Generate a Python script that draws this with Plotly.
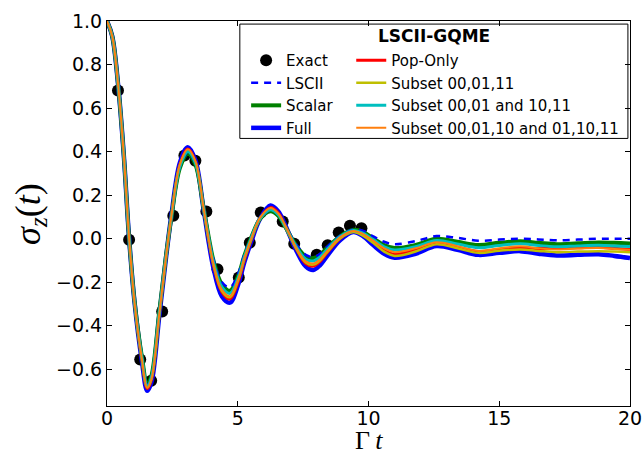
import plotly.graph_objects as go

# ---------------- data ----------------
T = [0, 0.2, 0.43, 0.65, 0.84, 1.05, 1.33, 1.54, 1.7, 2.0, 2.25, 2.46, 2.79, 3.09, 3.38, 3.68, 3.9, 4.07, 4.39, 4.7,
     5.02, 5.25, 5.5, 5.85, 6.25, 6.55, 6.81, 7.25, 7.6, 7.89, 8.15, 8.4, 8.91, 9.42, 9.8, 10.18, 10.6, 11.0, 11.8, 12.6,
     13.4, 14.2, 15.0, 15.8, 16.5, 17.2, 18.0, 18.8, 19.4, 20.0]

exact_t = [0.42, 0.845, 1.27, 1.69, 2.11, 2.535, 2.96, 3.38, 3.80, 4.225, 5.04, 5.46, 5.88, 6.72, 7.16, 8.02, 8.44,
           8.86, 9.29, 9.73]
exact_y = [0.68, -0.006, -0.556, -0.654, -0.336, 0.105, 0.382, 0.358, 0.124, -0.141, -0.179, -0.02, 0.12, 0.078,
           -0.024, -0.075, -0.031, 0.028, 0.059, 0.047]

lscii = [1.0, 0.93, 0.70, 0.37, 0.01, -0.285, -0.545, -0.675, -0.635, -0.335, -0.085, 0.095, 0.33, 0.395, 0.345, 0.15,
         0.0, -0.095, -0.2, -0.225, -0.16, -0.075, 0.0, 0.09, 0.13, 0.11, 0.06, -0.03, -0.075, -0.085, -0.07, -0.04,
         0.012, 0.042, 0.035, 0.01, -0.015, -0.026, -0.012, 0.011, 0.003, -0.01, -0.005, -0.001, -0.004, -0.008,
         -0.005, -0.001, -0.001, -0.001]
scalar = [1.0, 0.93, 0.70, 0.37, 0.01, -0.285, -0.54, -0.67, -0.63, -0.335, -0.085, 0.095, 0.325, 0.39, 0.34, 0.15,
          0.0, -0.1, -0.21, -0.24, -0.17, -0.08, 0.0, 0.09, 0.125, 0.105, 0.055, -0.035, -0.082, -0.09, -0.075, -0.045,
          0.01, 0.04, 0.03, 0.0, -0.03, -0.044, -0.03, -0.001, -0.015, -0.03, -0.02, -0.013, -0.02, -0.026, -0.022,
          -0.018, -0.02, -0.023]
full = [1.0, 0.93, 0.70, 0.37, 0.01, -0.29, -0.56, -0.70, -0.66, -0.355, -0.095, 0.105, 0.35, 0.42, 0.36, 0.145,
        -0.025, -0.135, -0.265, -0.295, -0.21, -0.11, -0.02, 0.09, 0.152, 0.125, 0.063, -0.058, -0.128, -0.145,
        -0.122, -0.083, -0.008, 0.03, 0.01, -0.03, -0.07, -0.088, -0.07, -0.035, -0.052, -0.075, -0.066, -0.058,
        -0.07, -0.078, -0.075, -0.072, -0.08, -0.09]
pop_only = [1.0, 0.93, 0.70, 0.37, 0.01, -0.29, -0.555, -0.69, -0.65, -0.35, -0.092, 0.10, 0.342, 0.412, 0.355, 0.148,
            -0.015, -0.122, -0.245, -0.278, -0.197, -0.1, -0.012, 0.092, 0.142, 0.117, 0.06, -0.05, -0.115, -0.127,
            -0.105, -0.068, 0.0, 0.033, 0.017, -0.017, -0.055, -0.072, -0.052, -0.023, -0.04, -0.06, -0.05, -0.044,
            -0.046, -0.044, -0.042, -0.04, -0.045, -0.05]
subset_a = [1.0, 0.93, 0.70, 0.37, 0.01, -0.29, -0.55, -0.685, -0.645, -0.345, -0.09, 0.10, 0.338, 0.405, 0.35, 0.145,
            -0.012, -0.12, -0.24, -0.27, -0.19, -0.095, -0.01, 0.09, 0.135, 0.11, 0.055, -0.05, -0.11, -0.12, -0.1,
            -0.065, 0.0, 0.03, 0.012, -0.02, -0.06, -0.08, -0.06, -0.026, -0.045, -0.066, -0.056, -0.05, -0.057,
            -0.063, -0.06, -0.058, -0.06, -0.063]
subset_b = [1.0, 0.93, 0.70, 0.37, 0.01, -0.288, -0.545, -0.678, -0.638, -0.34, -0.088, 0.098, 0.332, 0.4, 0.348, 0.15,
            -0.005, -0.108, -0.222, -0.252, -0.178, -0.085, -0.002, 0.092, 0.132, 0.11, 0.057, -0.04, -0.095, -0.103,
            -0.085, -0.052, 0.008, 0.037, 0.024, -0.005, -0.038, -0.053, -0.038, -0.009, -0.025, -0.042, -0.032,
            -0.024, -0.032, -0.038, -0.034, -0.031, -0.034, -0.037]
subset_c = [1.0, 0.93, 0.70, 0.37, 0.01, -0.29, -0.55, -0.685, -0.645, -0.345, -0.09, 0.10, 0.34, 0.41, 0.355, 0.15,
            -0.01, -0.115, -0.235, -0.265, -0.185, -0.09, -0.005, 0.095, 0.14, 0.115, 0.06, -0.045, -0.105, -0.115,
            -0.095, -0.06, 0.005, 0.035, 0.02, -0.01, -0.045, -0.063, -0.045, -0.017, -0.035, -0.057, -0.045, -0.036,
            -0.045, -0.05, -0.046, -0.044, -0.048, -0.052]

x_ticks = [0, 5, 10, 15, 20]
y_ticks = [-0.6, -0.4, -0.2, 0.0, 0.2, 0.4, 0.6, 0.8, 1.0]

LEGEND_TITLE = "LSCII-GQME"

# ---------------- figure ----------------
fig = go.Figure()

fig.add_trace(go.Scatter(x=exact_t, y=exact_y, mode="markers", name="Exact",
                         marker=dict(color="black", size=12), legend="legend", legendrank=1,
                         legendgroup="g1"))


def line(y, name, color, width, dash, leg, rank, grp):
    fig.add_trace(go.Scatter(x=T, y=y, mode="lines", name=name,
                             line=dict(color=color, width=width, dash=dash, shape="spline", smoothing=1.0),
                             legend=leg, legendrank=rank, legendgroup=grp))


line(full, "Full", "#0000ff", 4.5, "solid", "legend", 4, "g4")
line(scalar, "Scalar", "#008000", 4, "solid", "legend", 3, "g3")
line(lscii, "LSCII", "#0000ff", 2.5, "7px,6px", "legend", 2, "g2")
line(pop_only, "Pop-Only", "#ff0000", 3, "solid", "legend2", 1, "g5")
line(subset_a, "Subset 00,01,11", "#bfbf00", 2.5, "solid", "legend2", 2, "g6")
line(subset_b, "Subset 00,01 and 10,11", "#00bfbf", 3, "solid", "legend2", 3, "g7")
line(subset_c, "Subset 00,01,10 and 01,10,11", "#ff7f0e", 2, "solid", "legend2", 4, "g8")

axis_common = dict(showline=True, linecolor="black", linewidth=1, mirror="allticks", ticks="inside",
                   ticklen=5, tickwidth=1, tickcolor="black", showgrid=False, zeroline=False,
                   automargin=False,
                   tickfont=dict(family="DejaVu Sans", size=19, color="black"))

fig.update_xaxes(range=[0, 20], tickvals=x_ticks, ticktext=[str(v) for v in x_ticks],
                 ticklabelstandoff=-5, **axis_common)
fig.update_yaxes(range=[-0.77, 1.0], tickvals=y_ticks, tickformat=".1f", **axis_common)

leg_common = dict(xanchor="left", yanchor="top", bgcolor="rgba(0,0,0,0)", borderwidth=0,
                  font=dict(family="DejaVu Sans", size=15, color="black"), tracegroupgap=3,
                  itemwidth=30, traceorder="normal")

fig.update_layout(
    width=644, height=461,
    margin=dict(l=107, r=14, t=21, b=55, autoexpand=False),
    paper_bgcolor="white", plot_bgcolor="white",
    showlegend=True,
    legend=dict(x=0.266, y=0.94, **leg_common),
    legend2=dict(x=0.467, y=0.94, **leg_common),
    shapes=[dict(type="rect", xref="paper", yref="paper", x0=0.254, x1=0.996, y0=0.695, y1=0.992,
                 line=dict(color="black", width=1), fillcolor="white", layer="below")],
    annotations=[
        dict(text="<b>" + LEGEND_TITLE + "</b>", xref="paper", yref="paper", x=0.625, y=0.96,
             xanchor="center", yanchor="middle", showarrow=False,
             font=dict(family="DejaVu Sans", size=17, color="black")),
        dict(text="Γ\u2009<i>t</i>", xref="paper", yref="paper", x=0.5, y=-0.09, xanchor="center",
             yanchor="middle", showarrow=False, font=dict(family="Liberation Serif", size=26, color="black")),
        dict(text="<i>σ</i><sub><i>z</i></sub>(<i>t</i>)", xref="paper", yref="paper", x=-0.1465, y=0.5,
             xanchor="center", yanchor="middle", showarrow=False, textangle=-90,
             font=dict(family="Liberation Serif", size=36, color="black")),
    ],
)

fig.write_html("out.html", config={"displayModeBar": False},
               post_script="document.body.style.margin='0';")
